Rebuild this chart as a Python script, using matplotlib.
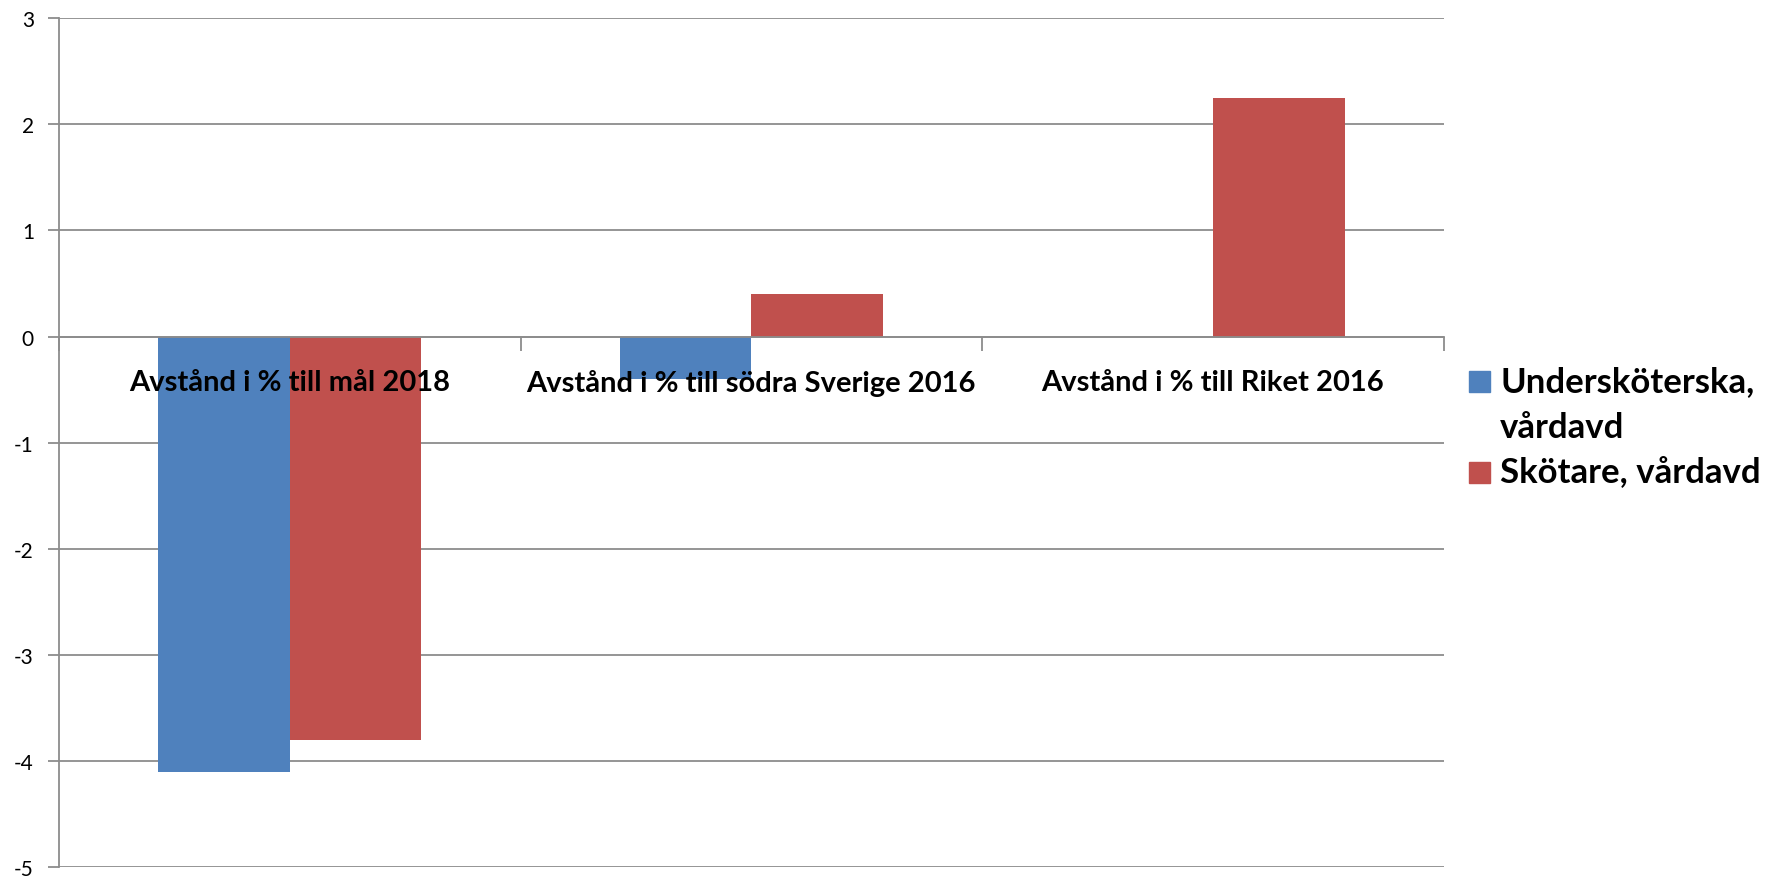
import matplotlib
matplotlib.use("Agg")
import matplotlib.pyplot as plt
from matplotlib.patches import Rectangle
import numpy as np

plt.rcParams['font.family'] = ['Lato', 'DejaVu Sans']

categories = ["Avstånd i % till mål 2018",
              "Avstånd i % till södra Sverige 2016",
              "Avstånd i % till Riket 2016"]
underskoterska = [-4.1, -0.4, 0.0]
skotare = [-3.8, 0.4, 2.25]
series_names = ["Undersköterska,\nvårdavd", "Skötare, vårdavd"]
colors = ["#4F81BD", "#C0504D"]
yticks = [-5, -4, -3, -2, -1, 0, 1, 2, 3]

grid_color = "#8c8c8c"

fig = plt.figure(figsize=(17.8, 8.78), dpi=100)
ax = fig.add_axes([0.0331, 0.0114, 0.778, 0.9666])

x = np.arange(len(categories))
w = 0.285
ax.bar(x - w / 2, underskoterska, w, color=colors[0], zorder=3)
ax.bar(x + w / 2, skotare, w, color=colors[1], zorder=3)

ax.set_xlim(-0.5, len(categories) - 0.5)
ax.set_ylim(-5, 3)
ax.set_yticks(yticks)
ax.set_yticklabels([str(t) for t in yticks], fontsize=15)
ax.yaxis.grid(True, color=grid_color, linewidth=1.3, zorder=0)
ax.tick_params(axis='y', length=8, width=1.3, color=grid_color, pad=10)

for s in ["top", "right"]:
    ax.spines[s].set_visible(False)
ax.spines["left"].set_color(grid_color)
ax.spines["left"].set_linewidth(1.3)
ax.spines["bottom"].set_position(("data", 0))
ax.spines["bottom"].set_color(grid_color)
ax.spines["bottom"].set_linewidth(1.3)
ax.spines["bottom"].set_zorder(4)

ax.set_xticks(np.arange(len(categories) + 1) - 0.5)
ax.set_xticklabels([])
ax.tick_params(axis='x', length=10, width=1.3, color=grid_color, direction='out')

for i, c in enumerate(categories):
    ax.text(i, -0.43, c, ha='center', va='center', fontsize=21,
            fontweight='bold', zorder=5)

# legend drawn by hand so the square sits on the first text line
leg_baselines = [0.5535, 0.4499]
line_gap = 46 / 878
for name, col, yb in zip(series_names, colors, leg_baselines):
    nlines = name.count("\n") + 1
    fig.patches.append(Rectangle((0.8253, yb - 0.001), 0.0118, 0.0239,
                                 transform=fig.transFigure, color=col))
    fig.text(0.8427, yb - (nlines - 1) * line_gap, name, ha='left',
             va='baseline', fontsize=25, fontweight='bold', linespacing=1.55)

fig.savefig("out.png", dpi=100)
